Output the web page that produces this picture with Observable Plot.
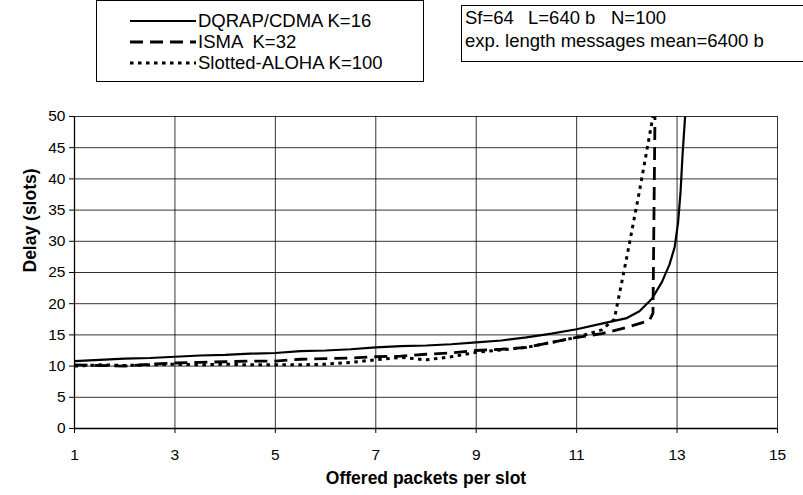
<!DOCTYPE html>
<html><head><meta charset="utf-8">
<script src="https://cdn.jsdelivr.net/npm/d3@7"></script>
<script src="https://cdn.jsdelivr.net/npm/@observablehq/plot@0.6"></script>
<style>
body{margin:0;background:#fff;font-family:"Liberation Sans",Arial,sans-serif;}
#wrap{position:relative;width:803px;height:495px;overflow:hidden;background:#fff}
.box{position:absolute;border:1px solid #000;background:#fff;box-sizing:border-box}
.row{position:absolute;left:0;height:20px;display:flex;align-items:center;white-space:nowrap}
.t{position:absolute;white-space:nowrap;font-size:18.5px;line-height:20px;color:#000}
svg.plot{position:absolute;left:0;top:0}
</style></head><body><div id="wrap"></div>
<script>
// ---- data ----
const seriesNames = ["DQRAP/CDMA K=16", "ISMA  K=32", "Slotted-ALOHA K=100"];
const dqX = [1,1.5,2,2.5,3,3.5,4,4.5,5,5.5,6,6.5,7,7.5,8,8.5,9,9.5,10,10.5,11,11.5,12,12.25,12.5,12.7,12.85,12.95,13.02,13.07,13.11,13.16];
const dqY = [10.8,11.0,11.2,11.3,11.5,11.7,11.8,12.0,12.1,12.4,12.5,12.7,13.0,13.2,13.3,13.5,13.8,14.1,14.6,15.2,15.9,16.8,17.7,18.8,20.8,23.5,26.3,29.0,33.0,38.0,44.0,50];
const isX = [1,1.5,2,2.5,3,3.5,4,4.5,5,5.5,6,6.5,7,7.5,8,8.5,9,9.5,10,10.5,11,11.5,12,12.45,12.52,12.56];
const isY = [10.2,10.1,10.0,10.3,10.5,10.6,10.7,10.8,10.8,11.1,11.2,11.3,11.5,11.6,11.9,12.1,12.5,12.7,13.0,13.8,14.6,15.2,16.2,17.3,18.5,50];
const alX = [1,1.5,2,2.5,3,3.5,4,4.5,5,5.5,6,6.5,7,7.5,8,8.5,9,9.5,10,10.5,11,11.5,11.75,12,12.25,12.52];
const alY = [10.0,10.2,10.1,10.2,10.3,10.2,10.3,10.2,10.2,10.2,10.3,10.6,11.0,11.4,11.0,11.5,12.2,12.6,13.0,13.8,14.6,15.8,17.5,27.5,38.0,50];
const xTicks = [1,3,5,7,9,11,13,15];
const yTicks = [0,5,10,15,20,25,30,35,40,45,50];
const xLabel = "Offered packets per slot";
const yLabel = "Delay (slots)";
const infoLine1 = ["Sf=64", "L=640 b", "N=100"];
const infoLine2 = "exp. length messages mean=6400 b";

// ---- styles ----
const styles = [
  {dash: null, width: 2.2},
  {dash: "13,7", width: 2.8},
  {dash: "3.5,4.5", width: 3}
];

const seriesXY = [[dqX, dqY], [isX, isY], [alX, alY]];
const rows = seriesXY.flatMap(([xs, ys], k) => xs.map((x, i) => ({s: seriesNames[k], x, y: ys[i]})));

const wrap = document.getElementById("wrap");

const plot = Plot.plot({
  width: 803, height: 495,
  marginLeft: 74, marginRight: 26, marginTop: 116, marginBottom: 67,
  style: {fontFamily: '"Liberation Sans", Arial, sans-serif', fontSize: "15.5px", color: "#000", background: "#fff"},
  x: {domain: [1, 15]},
  y: {domain: [0, 50]},
  marks: [
    Plot.gridX(xTicks, {stroke: "#000", strokeOpacity: 0.8, strokeWidth: 1}),
    Plot.gridY(yTicks, {stroke: "#000", strokeOpacity: 0.8, strokeWidth: 1}),
    Plot.axisX(xTicks, {tickSize: 5, tickPadding: 15, label: null, fontSize: 15.5}),
    Plot.axisY(yTicks, {tickSize: 5, tickPadding: 4, label: null, fontSize: 15.5}),
    Plot.ruleY([0], {stroke: "#000", strokeWidth: 1.3}),
    Plot.ruleX([1], {stroke: "#000", strokeWidth: 1.3}),
    ...seriesNames.map((name, k) => Plot.line(rows.filter(d => d.s === name), {
      x: "x", y: "y", stroke: "#000", strokeWidth: styles[k].width,
      strokeDasharray: styles[k].dash, strokeLinejoin: "round", strokeLinecap: "butt"
    })),
    Plot.text([xLabel], {frameAnchor: "bottom", dy: 55, fontWeight: "bold", fontSize: 17.5}),
    Plot.text([yLabel], {frameAnchor: "left", dx: -44, rotate: -90, fontWeight: "bold", fontSize: 17.5})
  ]
});
plot.classList.add("plot");
wrap.appendChild(plot);

// ---- legend box ----
const leg = document.createElement("div");
leg.className = "box";
Object.assign(leg.style, {left: "96px", top: "0px", width: "328px", height: "82px"});
const rowTops = [10, 31, 52];
seriesNames.forEach((name, k) => {
  const r = document.createElement("div");
  r.className = "row";
  r.style.top = rowTops[k] + "px";
  r.style.left = "33px";
  const ns = "http://www.w3.org/2000/svg";
  const s = document.createElementNS(ns, "svg");
  s.setAttribute("width", 66); s.setAttribute("height", 20);
  const l = document.createElementNS(ns, "line");
  l.setAttribute("x1", 0); l.setAttribute("x2", 66); l.setAttribute("y1", 10); l.setAttribute("y2", 10);
  l.setAttribute("stroke", "#000"); l.setAttribute("stroke-width", styles[k].width);
  if (styles[k].dash) l.setAttribute("stroke-dasharray", styles[k].dash);
  s.appendChild(l);
  r.appendChild(s);
  const t = document.createElement("span");
  t.textContent = name;
  t.style.fontSize = "18.5px";
  t.style.whiteSpace = "pre";
  t.style.marginLeft = "2px";
  r.appendChild(t);
  leg.appendChild(r);
});
wrap.appendChild(leg);

// ---- info box ----
const info = document.createElement("div");
info.className = "box";
Object.assign(info.style, {left: "461px", top: "5px", width: "360px", height: "57px"});
const lefts = [3, 66, 149];
infoLine1.forEach((txt, i) => {
  const t = document.createElement("div");
  t.className = "t"; t.textContent = txt;
  t.style.left = lefts[i] + "px"; t.style.top = "2px";
  info.appendChild(t);
});
const t2 = document.createElement("div");
t2.className = "t"; t2.textContent = infoLine2;
t2.style.left = "3px"; t2.style.top = "25px";
info.appendChild(t2);
wrap.appendChild(info);
</script>
</body></html>
